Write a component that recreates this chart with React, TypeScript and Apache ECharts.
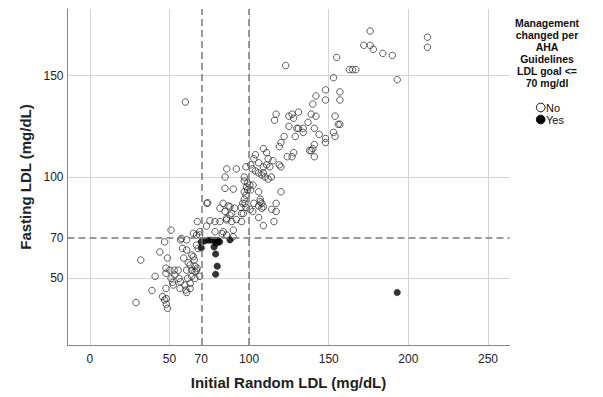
import React, { useEffect, useRef } from "react";
import * as echarts from "echarts";

const xGridValues = [0, 50, 100, 150, 200, 250];
const xLabelValues = [0, 50, 70, 100, 150, 200, 250];
const yGridValues = [50, 100, 150];
const yLabelValues = [50, 70, 100, 150];
const refLinesX = [70, 100];
const refLinesY = [70];
const xRange = [-14, 263.5];
const yRange = [17.1, 182.9];

const seriesNames = ["No", "Yes"];
const legendTitle = "Management\nchanged per\nAHA\nGuidelines\nLDL goal <=\n70 mg/dl";
const xTitle = "Initial Random LDL (mg/dL)";
const yTitle = "Fasting LDL (mg/dL)";

const noPoints: [number, number][] = [
  [176, 172], [212, 169], [212, 164], [172, 165], [176, 165], [178, 163], [184, 161], [190, 160],
  [193, 148], [155, 159], [163, 153], [165, 153], [167, 153], [123, 155], [153, 149], [148, 143],
  [157, 142], [142, 140], [148, 138], [157, 138], [140, 136], [131, 132], [117, 131], [116, 128],
  [125, 130], [127, 131], [128, 129], [139, 131], [142, 130], [154, 130], [137, 127], [125, 125],
  [130, 124], [131, 124], [134, 124], [134, 122], [141, 124], [156, 126], [157, 126], [122, 120],
  [129, 120], [144, 121], [119, 115], [120, 117], [148, 119], [148, 117], [153, 122], [154, 120],
  [141, 116], [140, 114], [138, 113], [139, 113], [141, 110], [124, 110], [127, 110], [128, 112],
  [109, 114], [111, 112], [104, 111], [103, 109], [112, 109], [115, 108], [106, 107], [101, 106],
  [98, 105], [102, 104], [111, 106], [119, 106], [120, 105], [106, 102], [109, 102], [104, 103],
  [109, 105], [113, 105],
  [97, 100], [108, 101], [110, 100], [112, 99], [114, 100], [97, 98], [99, 97], [98.5, 95],
  [100.5, 96], [102.5, 96], [97, 92.7], [98, 91], [97, 89], [97.4, 87], [96, 87], [106, 92.7],
  [120, 92.7], [107, 89], [107, 87.8], [108, 87], [106, 85.7], [109, 85.3], [108, 84.6], [100.6, 84],
  [102.3, 83], [95.3, 82], [96.4, 82], [95.3, 78], [114.2, 84], [117, 87], [117, 83], [115.6, 78],
  [106, 80], [109, 76], [95, 85], [98, 85], [99, 93.6], [101, 93.6], [103, 87],
  [92, 104], [86, 104], [60, 137],
  [29, 38], [32, 59], [39, 44], [41, 51], [44, 63], [45.7, 41], [47, 39.3], [48, 37.2],
  [48.8, 35.2], [48, 40], [47.8, 45], [47, 68], [48.8, 60], [47.8, 55], [47.8, 52.5], [50.3, 54],
  [53, 54], [55.5, 54], [53.4, 51.6], [51, 50], [52.4, 46.7], [56.6, 45], [57, 48.3], [59.7, 46.7],
  [60.3, 44.2], [61.4, 50], [51, 73.8], [57, 69], [58.2, 64.8], [60.8, 64], [59, 60], [61.8, 57.7],
  [65, 60.7], [65.6, 59], [63, 56.6], [64, 54], [66, 53.3], [64, 51], [66, 50], [63, 47.5],
  [60.8, 43], [67, 54], [67.5, 78], [65, 72.2], [69, 73], [67, 66.4], [68, 64.8], [69, 71.4],
  [64, 61.5], [60.8, 54], [66, 56], [67.4, 55], [69, 51], [63, 45], [56, 50], [52, 48],
  [73.3, 75.8], [75.4, 78.4], [78.6, 78], [81.7, 78], [83.8, 73], [85.9, 71.4], [83.1, 72],
  [85.9, 78.8], [90.1, 73.8], [89.1, 78], [73.5, 87], [74, 87.3], [83.7, 87], [86.9, 85.7],
  [84.9, 83], [89.1, 82], [85.9, 79.6], [84.9, 94.4], [90.1, 94], [85, 100], [92, 79], [88, 81.2],
  [78.6, 73], [67, 71.4], [90, 70.5], [57.6, 69.7], [60.8, 69], [81.7, 84.6], [88, 85.3], [91, 84.6],
];

const yesPoints: [number, number][] = [
  [70, 68], [70, 65], [72, 68.4], [74.5, 68.8], [76.5, 68.8], [78.5, 68.8], [80.5, 68.6],
  [79.5, 67.3], [81.5, 68], [88, 69], [78, 65.5], [79, 62], [80, 56], [79, 52], [193, 43],
];

const FONT = "Arial, 'Liberation Sans', sans-serif";

export default function App() {
  const ref = useRef<HTMLDivElement>(null);
  useEffect(() => {
    if (!ref.current) return;
    const chart = echarts.init(ref.current, null, { renderer: "svg" });
    const dashStyle = { color: "#7a7a7a", width: 1.5, type: [7, 4] as number[] };
    chart.setOption({
      animation: false,
      backgroundColor: "#ffffff",
      textStyle: { fontFamily: FONT },
      grid: { left: 67.5, right: 93.5, top: 9, bottom: 52, containLabel: false },
      xAxis: {
        type: "value",
        min: xRange[0],
        max: xRange[1],
        name: xTitle,
        nameLocation: "middle",
        nameGap: 30,
        nameTextStyle: { fontSize: 15, fontWeight: "bold", color: "#222", fontFamily: FONT },
        axisLine: { show: true, onZero: false, lineStyle: { color: "#888", width: 1 } },
        axisTick: { show: false, customValues: xGridValues },
        axisLabel: { customValues: xLabelValues, fontSize: 12, color: "#222", margin: 8, fontFamily: FONT },
        splitLine: { show: true, lineStyle: { color: "#d4d4d4", width: 1 } },
      },
      yAxis: {
        type: "value",
        min: yRange[0],
        max: yRange[1],
        name: yTitle,
        nameLocation: "middle",
        nameGap: 34,
        nameTextStyle: { fontSize: 15, fontWeight: "bold", color: "#222", fontFamily: FONT },
        axisLine: { show: true, onZero: false, lineStyle: { color: "#888", width: 1 } },
        axisTick: { show: false, customValues: yGridValues },
        axisLabel: { customValues: yLabelValues, fontSize: 12, color: "#222", margin: 4, fontFamily: FONT },
        splitLine: { show: true, lineStyle: { color: "#d4d4d4", width: 1 } },
      },
      series: [
        {
          name: seriesNames[0],
          type: "scatter",
          data: noPoints,
          symbol: "circle",
          symbolSize: 6.5,
          itemStyle: { color: "rgba(255,255,255,0)", borderColor: "#222", borderWidth: 0.9 },
          markLine: {
            silent: true,
            symbol: "none",
            label: { show: false },
            lineStyle: dashStyle,
            data: [
              ...refLinesX.map((v) => ({ xAxis: v })),
              ...refLinesY.map((v) => ({ yAxis: v })),
            ],
          },
          z: 3,
        },
        {
          name: seriesNames[1],
          type: "scatter",
          data: yesPoints,
          symbol: "circle",
          symbolSize: 6.5,
          itemStyle: { color: "#000", borderColor: "#000", borderWidth: 0.5 },
          z: 4,
        },
      ],
      graphic: [
        {
          type: "text",
          x: 547,
          y: 17,
          style: {
            text: legendTitle,
            align: "center",
            verticalAlign: "top",
            fontSize: 10.5,
            fontWeight: "bold",
            fontFamily: FONT,
            lineHeight: 12,
            fill: "#111",
          },
        },
        {
          type: "circle",
          shape: { cx: 540.7, cy: 107.5, r: 4.3 },
          style: { fill: "#fff", stroke: "#000", lineWidth: 1 },
        },
        {
          type: "text",
          x: 546,
          y: 107.5,
          style: { text: seriesNames[0], fontSize: 11, fontFamily: FONT, fill: "#111", verticalAlign: "middle", align: "left" },
        },
        {
          type: "circle",
          shape: { cx: 540.7, cy: 119.5, r: 4.3 },
          style: { fill: "#000", stroke: "#000", lineWidth: 1 },
        },
        {
          type: "text",
          x: 546,
          y: 119.5,
          style: { text: seriesNames[1], fontSize: 11, fontFamily: FONT, fill: "#111", verticalAlign: "middle", align: "left" },
        },
      ],
    });
    return () => chart.dispose();
  }, []);
  return (
    <div
      ref={ref}
      style={{ position: "fixed", left: 0, top: 0, width: 603, height: 397, background: "#fff" }}
    />
  );
}
